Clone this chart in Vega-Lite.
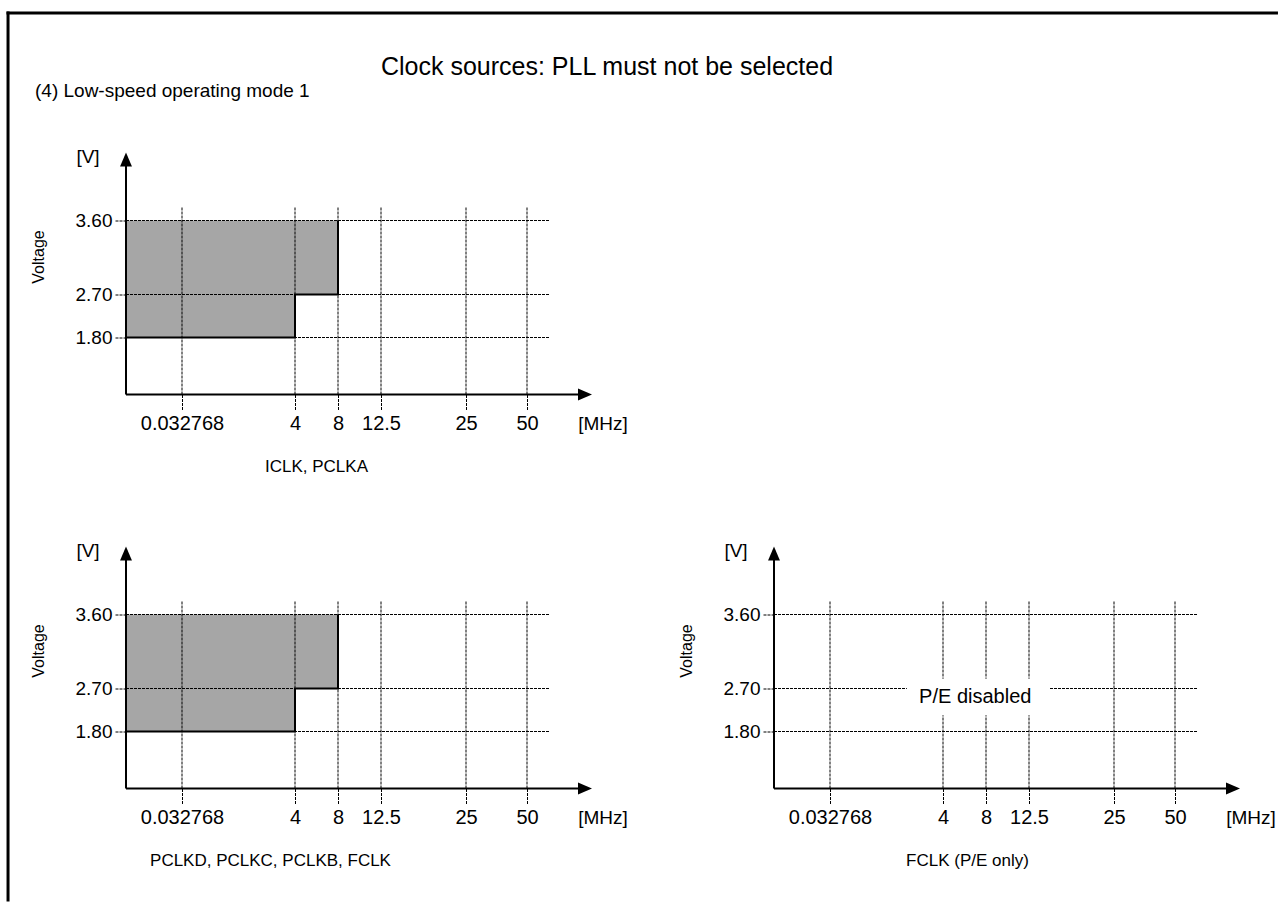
{
  "$schema": "https://vega.github.io/schema/vega-lite/v6.json",
  "padding": {"left": 4, "top": 9.5, "right": 0, "bottom": 0},
  "background": "white",
  "datasets": {
    "shaded": [{"f": 0, "f2": 4, "v": 1.8, "v2": 3.6}, {"f": 4, "f2": 8, "v": 2.7, "v2": 3.6}],
    "outline": [{"f": 0, "v": 1.8, "o": 1}, {"f": 4, "v": 1.8, "o": 2}, {"f": 4, "v": 2.7, "o": 3}, {"f": 8, "v": 2.7, "o": 4}, {"f": 8, "v": 3.6, "o": 5}],
    "freqs": [{"f": 0.032768}, {"f": 4}, {"f": 8}, {"f": 12.5}, {"f": 25}, {"f": 50}],
    "volts": [{"v": 1.8}, {"v": 2.7}, {"v": 3.6}],
    "note": [{"label": "P/E disabled", "f": 7, "v": 2.53}],
    "one": [{"k": 1}]
  },
  "title": {
    "text": "Clock sources: PLL must not be selected",
    "anchor": "middle", "frame": "group", "dx": 481, "dy": 82, "offset": 0,
    "baseline": "middle", "fontSize": 25, "fontWeight": "normal", "color": "black", "font": "Liberation Sans"
  },
  "spacing": 152,
  "bounds": "flush",
  "vconcat": [
    {
      "width": 466, "height": 242,
      "title": {"text": "(4) Low-speed operating mode 1", "anchor": "start", "frame": "group", "dx": -91, "offset": 38, "baseline": "middle", "fontSize": 19, "fontWeight": "normal", "color": "black", "font": "Liberation Sans"},
      "layer": [
        {"data": {"name": "shaded"}, "mark": {"type": "rect", "fill": "#a6a6a6"},
         "encoding": {
           "x": {"field": "f", "type": "quantitative",
                 "scale": {"domain": [0, 0.032768, 4, 8, 12.5, 25, 50, 55, 60], "range": [0, 56, 169, 212, 255, 340, 401, 424, 466], "nice": false, "zero": false},
                 "axis": {"values": [0.032768, 4, 8, 12.5, 25, 50], "labelExpr": "'' + datum.value", "domain": false, "grid": false, "tickSize": 16, "tickDash": [3, 1], "tickColor": "black", "tickWidth": 1, "labelFontSize": 20, "labelColor": "black", "labelPadding": 3, "labelFlush": false, "labelOverlap": false, "title": "ICLK, PCLKA", "titleFontSize": 17, "titleFontWeight": "normal", "titleColor": "black", "titleX": 190, "titleY": 72, "titleBaseline": "middle", "titleAlign": "center"}},
           "x2": {"field": "f2"},
           "y": {"field": "v", "type": "quantitative",
                 "scale": {"domain": [0, 1.8, 2.7, 3.6, 3.8, 4.4], "range": [242, 185, 142, 68, 54, 0], "nice": false, "zero": false},
                 "axis": {"values": [1.8, 2.7, 3.6], "format": ".2f", "domain": false, "grid": false, "tickSize": 11, "tickDash": [3, 1], "tickColor": "black", "tickWidth": 1, "labelFontSize": 19, "labelColor": "black", "labelPadding": 3, "title": "Voltage", "titleFontSize": 16, "titleFontWeight": "normal", "titleColor": "black", "titleX": -88, "titleY": 104, "titleAngle": -90, "titleAlign": "center", "titleBaseline": "middle"}},
           "y2": {"field": "v2"}
         }},
        {"data": {"name": "freqs"}, "mark": {"type": "rule", "color": "black", "strokeWidth": 1, "strokeDash": [3, 1]},
         "encoding": {"x": {"field": "f", "type": "quantitative"}, "y": {"datum": 0}, "y2": {"datum": 3.8}}},
        {"data": {"name": "volts"}, "mark": {"type": "rule", "color": "black", "strokeWidth": 1, "strokeDash": [3, 1]},
         "encoding": {"x": {"datum": 0}, "x2": {"datum": 55}, "y": {"field": "v", "type": "quantitative"}}},
        {"data": {"name": "outline"}, "mark": {"type": "line", "color": "black", "strokeWidth": 2},
         "encoding": {"x": {"field": "f", "type": "quantitative"}, "y": {"field": "v", "type": "quantitative"}, "order": {"field": "o", "type": "quantitative"}}},
        {"data": {"name": "one"}, "mark": {"type": "rule", "color": "black", "strokeWidth": 2},
         "encoding": {"x": {"datum": 0}, "y": {"datum": 0}, "y2": {"datum": 4.3}}},
        {"data": {"name": "one"}, "mark": {"type": "rule", "color": "black", "strokeWidth": 2},
         "encoding": {"x": {"datum": 0}, "x2": {"datum": 59}, "y": {"datum": 0}}},
        {"data": {"name": "one"}, "mark": {"type": "point", "filled": true, "color": "black", "opacity": 1, "size": 196, "shape": "M0,0L-0.85,2L0.85,2Z"},
         "encoding": {"x": {"datum": 0}, "y": {"datum": 4.4}}},
        {"data": {"name": "one"}, "mark": {"type": "point", "filled": true, "color": "black", "opacity": 1, "size": 196, "shape": "M0,0L-2,-0.85L-2,0.85Z"},
         "encoding": {"x": {"datum": 60}, "y": {"datum": 0}}},
        {"data": {"name": "one"}, "mark": {"type": "text", "text": "[V]", "dx": -38, "dy": 4, "fontSize": 19, "color": "black", "baseline": "middle", "align": "center"},
         "encoding": {"x": {"datum": 0}, "y": {"datum": 4.4}}},
        {"data": {"name": "one"}, "mark": {"type": "text", "text": "[MHz]", "dx": 11, "dy": 29, "fontSize": 19, "color": "black", "baseline": "middle", "align": "center"},
         "encoding": {"x": {"datum": 60}, "y": {"datum": 0}}}
      ]
    },
    {
      "spacing": 182,
      "bounds": "flush",
      "hconcat": [
        {
          "width": 466, "height": 242,
          "layer": [
            {"data": {"name": "shaded"}, "mark": {"type": "rect", "fill": "#a6a6a6"},
             "encoding": {
               "x": {"field": "f", "type": "quantitative",
                     "scale": {"domain": [0, 0.032768, 4, 8, 12.5, 25, 50, 55, 60], "range": [0, 56, 169, 212, 255, 340, 401, 424, 466], "nice": false, "zero": false},
                     "axis": {"values": [0.032768, 4, 8, 12.5, 25, 50], "labelExpr": "'' + datum.value", "domain": false, "grid": false, "tickSize": 16, "tickDash": [3, 1], "tickColor": "black", "tickWidth": 1, "labelFontSize": 20, "labelColor": "black", "labelPadding": 3, "labelFlush": false, "labelOverlap": false, "title": "PCLKD, PCLKC, PCLKB, FCLK", "titleFontSize": 17, "titleFontWeight": "normal", "titleColor": "black", "titleX": 144, "titleY": 72, "titleBaseline": "middle", "titleAlign": "center"}},
               "x2": {"field": "f2"},
               "y": {"field": "v", "type": "quantitative",
                     "scale": {"domain": [0, 1.8, 2.7, 3.6, 3.8, 4.4], "range": [242, 185, 142, 68, 54, 0], "nice": false, "zero": false},
                     "axis": {"values": [1.8, 2.7, 3.6], "format": ".2f", "domain": false, "grid": false, "tickSize": 11, "tickDash": [3, 1], "tickColor": "black", "tickWidth": 1, "labelFontSize": 19, "labelColor": "black", "labelPadding": 3, "title": "Voltage", "titleFontSize": 16, "titleFontWeight": "normal", "titleColor": "black", "titleX": -88, "titleY": 104, "titleAngle": -90, "titleAlign": "center", "titleBaseline": "middle"}},
               "y2": {"field": "v2"}
             }},
            {"data": {"name": "freqs"}, "mark": {"type": "rule", "color": "black", "strokeWidth": 1, "strokeDash": [3, 1]},
             "encoding": {"x": {"field": "f", "type": "quantitative"}, "y": {"datum": 0}, "y2": {"datum": 3.8}}},
            {"data": {"name": "volts"}, "mark": {"type": "rule", "color": "black", "strokeWidth": 1, "strokeDash": [3, 1]},
             "encoding": {"x": {"datum": 0}, "x2": {"datum": 55}, "y": {"field": "v", "type": "quantitative"}}},
            {"data": {"name": "outline"}, "mark": {"type": "line", "color": "black", "strokeWidth": 2},
             "encoding": {"x": {"field": "f", "type": "quantitative"}, "y": {"field": "v", "type": "quantitative"}, "order": {"field": "o", "type": "quantitative"}}},
            {"data": {"name": "one"}, "mark": {"type": "rule", "color": "black", "strokeWidth": 2},
             "encoding": {"x": {"datum": 0}, "y": {"datum": 0}, "y2": {"datum": 4.3}}},
            {"data": {"name": "one"}, "mark": {"type": "rule", "color": "black", "strokeWidth": 2},
             "encoding": {"x": {"datum": 0}, "x2": {"datum": 59}, "y": {"datum": 0}}},
            {"data": {"name": "one"}, "mark": {"type": "point", "filled": true, "color": "black", "opacity": 1, "size": 196, "shape": "M0,0L-0.85,2L0.85,2Z"},
             "encoding": {"x": {"datum": 0}, "y": {"datum": 4.4}}},
            {"data": {"name": "one"}, "mark": {"type": "point", "filled": true, "color": "black", "opacity": 1, "size": 196, "shape": "M0,0L-2,-0.85L-2,0.85Z"},
             "encoding": {"x": {"datum": 60}, "y": {"datum": 0}}},
            {"data": {"name": "one"}, "mark": {"type": "text", "text": "[V]", "dx": -38, "dy": 4, "fontSize": 19, "color": "black", "baseline": "middle", "align": "center"},
             "encoding": {"x": {"datum": 0}, "y": {"datum": 4.4}}},
            {"data": {"name": "one"}, "mark": {"type": "text", "text": "[MHz]", "dx": 11, "dy": 29, "fontSize": 19, "color": "black", "baseline": "middle", "align": "center"},
             "encoding": {"x": {"datum": 60}, "y": {"datum": 0}}}
          ]
        },
        {
          "width": 466, "height": 242,
          "layer": [
            {"data": {"name": "freqs"}, "mark": {"type": "rule", "color": "black", "strokeWidth": 1, "strokeDash": [3, 1]},
             "encoding": {
               "x": {"field": "f", "type": "quantitative",
                     "scale": {"domain": [0, 0.032768, 4, 8, 12.5, 25, 50, 55, 60], "range": [0, 56, 169, 212, 255, 340, 401, 424, 466], "nice": false, "zero": false},
                     "axis": {"values": [0.032768, 4, 8, 12.5, 25, 50], "labelExpr": "'' + datum.value", "domain": false, "grid": false, "tickSize": 16, "tickDash": [3, 1], "tickColor": "black", "tickWidth": 1, "labelFontSize": 20, "labelColor": "black", "labelPadding": 3, "labelFlush": false, "labelOverlap": false, "title": "FCLK (P/E only)", "titleFontSize": 17, "titleFontWeight": "normal", "titleColor": "black", "titleX": 193, "titleY": 72, "titleBaseline": "middle", "titleAlign": "center"}},
               "y": {"datum": 0,
                     "scale": {"domain": [0, 1.8, 2.7, 3.6, 3.8, 4.4], "range": [242, 185, 142, 68, 54, 0], "nice": false, "zero": false},
                     "axis": {"values": [1.8, 2.7, 3.6], "format": ".2f", "domain": false, "grid": false, "tickSize": 11, "tickDash": [3, 1], "tickColor": "black", "tickWidth": 1, "labelFontSize": 19, "labelColor": "black", "labelPadding": 3, "title": "Voltage", "titleFontSize": 16, "titleFontWeight": "normal", "titleColor": "black", "titleX": -88, "titleY": 104, "titleAngle": -90, "titleAlign": "center", "titleBaseline": "middle"}},
               "y2": {"datum": 3.8}
             }},
            {"data": {"name": "volts"}, "mark": {"type": "rule", "color": "black", "strokeWidth": 1, "strokeDash": [3, 1]},
             "encoding": {"x": {"datum": 0}, "x2": {"datum": 55}, "y": {"field": "v", "type": "quantitative"}}},
            {"data": {"name": "one"}, "mark": {"type": "rect", "fill": "white"},
             "encoding": {"x": {"datum": 2.73}, "x2": {"datum": 15.5}, "y": {"datum": 2.14}, "y2": {"datum": 2.82}}},
            {"data": {"name": "note"}, "mark": {"type": "text", "fontSize": 20, "color": "black", "baseline": "middle", "align": "center"},
             "encoding": {"x": {"field": "f", "type": "quantitative"}, "y": {"field": "v", "type": "quantitative"}, "text": {"field": "label"}}},
            {"data": {"name": "one"}, "mark": {"type": "rule", "color": "black", "strokeWidth": 2},
             "encoding": {"x": {"datum": 0}, "y": {"datum": 0}, "y2": {"datum": 4.3}}},
            {"data": {"name": "one"}, "mark": {"type": "rule", "color": "black", "strokeWidth": 2},
             "encoding": {"x": {"datum": 0}, "x2": {"datum": 59}, "y": {"datum": 0}}},
            {"data": {"name": "one"}, "mark": {"type": "point", "filled": true, "color": "black", "opacity": 1, "size": 196, "shape": "M0,0L-0.85,2L0.85,2Z"},
             "encoding": {"x": {"datum": 0}, "y": {"datum": 4.4}}},
            {"data": {"name": "one"}, "mark": {"type": "point", "filled": true, "color": "black", "opacity": 1, "size": 196, "shape": "M0,0L-2,-0.85L-2,0.85Z"},
             "encoding": {"x": {"datum": 60}, "y": {"datum": 0}}},
            {"data": {"name": "one"}, "mark": {"type": "text", "text": "[V]", "dx": -38, "dy": 4, "fontSize": 19, "color": "black", "baseline": "middle", "align": "center"},
             "encoding": {"x": {"datum": 0}, "y": {"datum": 4.4}}},
            {"data": {"name": "one"}, "mark": {"type": "text", "text": "[MHz]", "dx": 11, "dy": 29, "fontSize": 19, "color": "black", "baseline": "middle", "align": "center"},
             "encoding": {"x": {"datum": 60}, "y": {"datum": 0}}},
            {"data": {"name": "one"}, "mark": {"type": "rule", "color": "black", "strokeWidth": 3},
             "encoding": {"x": {"datum": -0.4491}, "x2": {"datum": 64.52}, "y": {"datum": 10.328}}},
            {"data": {"name": "one"}, "mark": {"type": "rule", "color": "black", "strokeWidth": 3},
             "encoding": {"x": {"datum": -0.4482}, "y": {"datum": -3.568}, "y2": {"datum": 10.344}}}
          ]
        }
      ]
    }
  ],
  "config": {
    "view": {"stroke": null},
    "font": "Liberation Sans",
    "axis": {"labelFont": "Liberation Sans", "titleFont": "Liberation Sans"},
    "text": {"font": "Liberation Sans"},
    "title": {"font": "Liberation Sans"}
  }
}
